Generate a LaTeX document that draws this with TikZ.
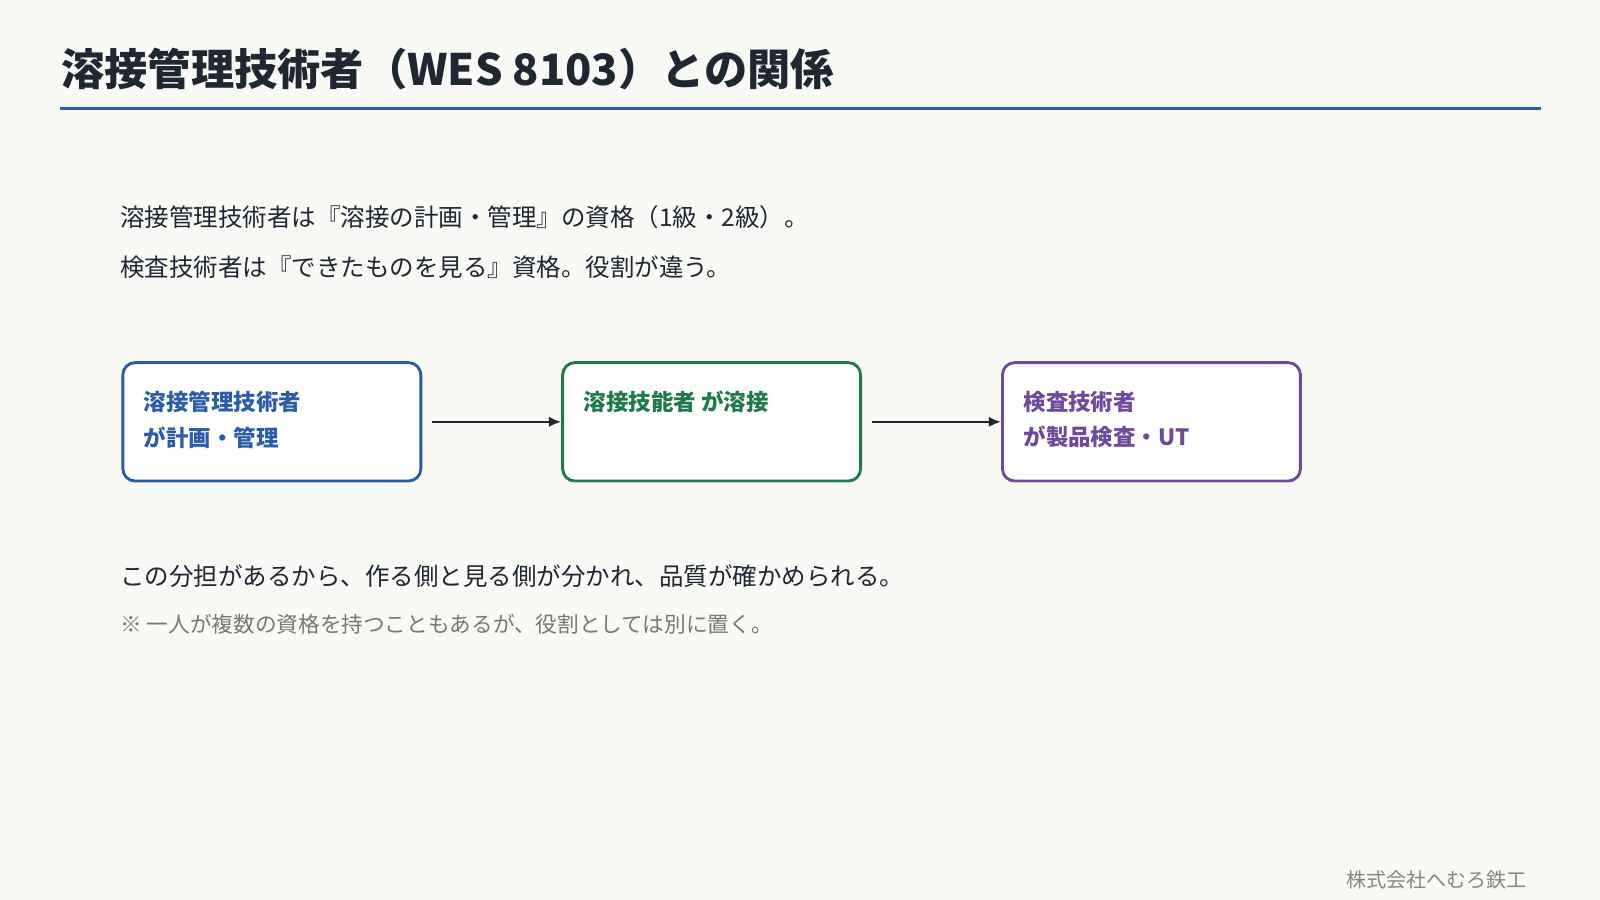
\documentclass[tikz,border=0pt]{standalone}
\usepackage{fontspec}
\setmainfont{Noto Sans CJK JP}
\usetikzlibrary{arrows.meta}
\definecolor{bg}{HTML}{F9F9F6}
\definecolor{ink}{HTML}{1F2733}
\definecolor{rule}{HTML}{2B5EA7}
\definecolor{cb}{HTML}{2A5CAA}
\definecolor{cg}{HTML}{1E7A4A}
\definecolor{cp}{HTML}{6F4A9A}
\definecolor{gr}{HTML}{777777}
\begin{document}
\begin{tikzpicture}[x=0.5pt,y=-0.5pt,
  box/.style={draw=#1,line width=1.4pt,rounded corners=6pt,fill=white,minimum width=146pt,minimum height=58pt,anchor=north west},
  lbl/.style={anchor=north west,text=#1,font=\fontsize{11}{17.5}\selectfont\bfseries,align=left},
  body/.style={anchor=west,text=ink,font=\fontsize{12}{14}\selectfont},
  arr/.style={draw=ink,line width=1pt,-{Latex[length=6pt,width=5pt]}}]
\useasboundingbox[fill=bg] (0,0) rectangle (1568,882);
\node[anchor=west,text=ink,font=\fontsize{21.2}{25}\selectfont\bfseries] (title) at (53,68) {溶接管理技術者（WES 8103）との関係};
\draw[rule,line width=1.6pt] (59,106) -- (1510,106);
\node[body] (t1) at (111,213) {溶接管理技術者は『溶接の計画・管理』の資格（1級・2級）。};
\node[body] (t2) at (111,262) {検査技術者は『できたものを見る』資格。役割が違う。};
\node[box=cb] (b1) at (119,354) {};
\node[box=cg] (b2) at (550,354) {};
\node[box=cp] (b3) at (981,354) {};
\node[lbl=cb] (l1) at (134,376) {溶接管理技術者\\が計画・管理};
\node[lbl=cg] (l2) at (565,376) {溶接技能者 が溶接};
\node[lbl=cp] (l3) at (996,376) {検査技術者\\が製品検査・UT};
\draw[arr] ([xshift=5pt]b1.east) -- (b2.west);
\draw[arr] ([xshift=5pt]b2.east) -- (b3.west);
\node[body] (t3) at (111,565) {この分担があるから、作る側と見る側が分かれ、品質が確かめられる。};
\node[anchor=west,text=gr,font=\fontsize{10.6}{12}\selectfont] (t4) at (111,612) {※ 一人が複数の資格を持つこともあるが、役割としては別に置く。};
\node[anchor=east,text=gr!90,font=\fontsize{9.8}{12}\selectfont] (ft) at (1503,862) {株式会社へむろ鉄工};
\end{tikzpicture}
\end{document}
